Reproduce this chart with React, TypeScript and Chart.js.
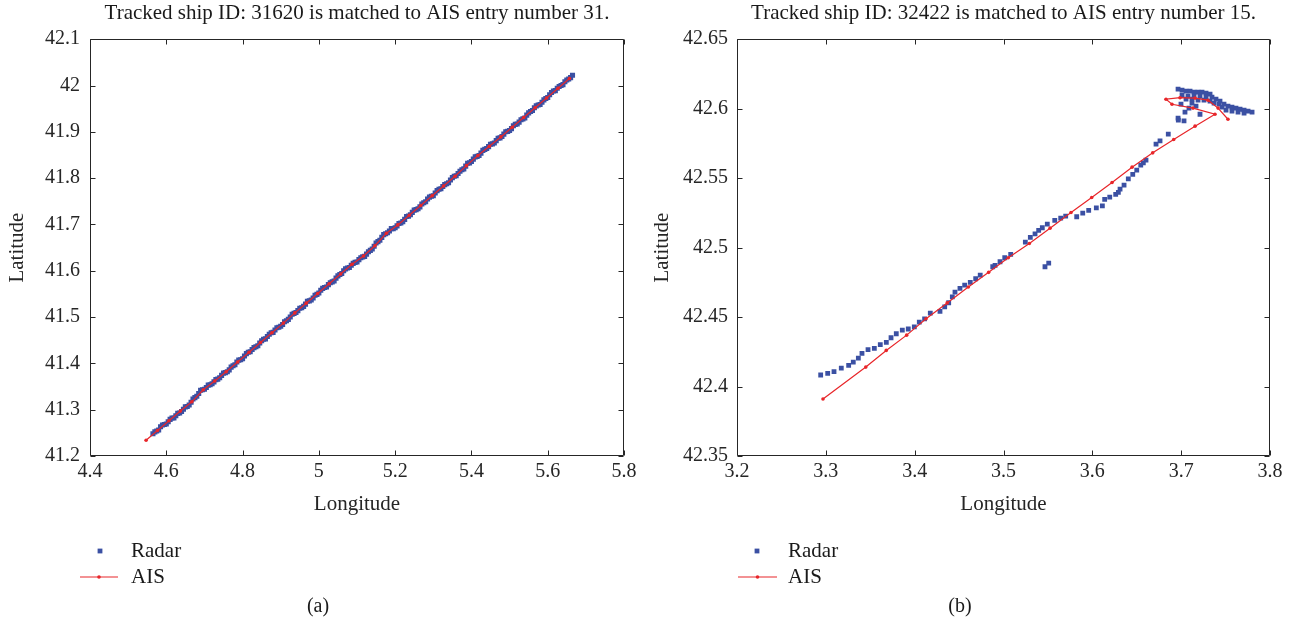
import React, { useEffect, useRef } from 'react';
import { Chart, registerables } from 'chart.js';

Chart.register(...registerables);

const FONT = "'Liberation Serif', 'Times New Roman', serif";
const INK = '#262626';
const BLUE = '#3b50a3';
const RED = '#e8262a';

// ---------- Panel (a) ----------
const titleA = 'Tracked ship ID: 31620 is matched to AIS entry number 31.';
const xTicksA = [4.4, 4.6, 4.8, 5, 5.2, 5.4, 5.6, 5.8];
const yTicksA = [41.2, 41.3, 41.4, 41.5, 41.6, 41.7, 41.8, 41.9, 42, 42.1];
const radarALon = [4.565, 4.575, 4.585, 4.595, 4.605, 4.615, 4.625, 4.635, 4.645, 4.655,
  4.665, 4.675, 4.685, 4.695, 4.705, 4.715, 4.725, 4.735, 4.745, 4.755,
  4.765, 4.775, 4.785, 4.795, 4.805, 4.815, 4.825, 4.835, 4.845, 4.855,
  4.865, 4.875, 4.885, 4.895, 4.905, 4.915, 4.925, 4.935, 4.945, 4.955,
  4.965, 4.975, 4.985, 4.995, 5.005, 5.015, 5.025, 5.035, 5.045, 5.055,
  5.065, 5.075, 5.085, 5.095, 5.105, 5.115, 5.125, 5.135, 5.145, 5.155,
  5.165, 5.175, 5.185, 5.195, 5.205, 5.215, 5.225, 5.235, 5.245, 5.255,
  5.265, 5.275, 5.285, 5.295, 5.305, 5.315, 5.325, 5.335, 5.345, 5.355,
  5.365, 5.375, 5.385, 5.395, 5.405, 5.415, 5.425, 5.435, 5.445, 5.455,
  5.465, 5.475, 5.485, 5.495, 5.505, 5.515, 5.525, 5.535, 5.545, 5.555,
  5.565, 5.575, 5.585, 5.595, 5.605, 5.615, 5.625, 5.635, 5.645, 5.655,
  5.665,
  4.570, 4.580, 4.590, 4.600, 4.610, 4.620, 4.630, 4.640, 4.650, 4.660,
  4.670, 4.680, 4.690, 4.700, 4.710, 4.720, 4.730, 4.740, 4.750, 4.760,
  4.770, 4.780, 4.790, 4.800, 4.810, 4.820, 4.830, 4.840, 4.850, 4.860,
  4.870, 4.880, 4.890, 4.900, 4.910, 4.920, 4.930, 4.940, 4.950, 4.960,
  4.970, 4.980, 4.990, 5.000, 5.010, 5.020, 5.030, 5.040, 5.050, 5.060,
  5.070, 5.080, 5.090, 5.100, 5.110, 5.120, 5.130, 5.140, 5.150, 5.160,
  5.170, 5.180, 5.190, 5.200, 5.210, 5.220, 5.230, 5.240, 5.250, 5.260,
  5.270, 5.280, 5.290, 5.300, 5.310, 5.320, 5.330, 5.340, 5.350, 5.360,
  5.370, 5.380, 5.390, 5.400, 5.410, 5.420, 5.430, 5.440, 5.450, 5.460,
  5.470, 5.480, 5.490, 5.500, 5.510, 5.520, 5.530, 5.540, 5.550, 5.560,
  5.570, 5.580, 5.590, 5.600, 5.610, 5.620, 5.630, 5.640, 5.650, 5.660];
const radarALat = [41.248, 41.254, 41.263, 41.268, 41.274, 41.282, 41.287, 41.293, 41.301, 41.307,
  41.316, 41.326, 41.335, 41.343, 41.348, 41.354, 41.360, 41.366, 41.374, 41.380,
  41.386, 41.395, 41.403, 41.408, 41.416, 41.424, 41.430, 41.436, 41.444, 41.452,
  41.458, 41.466, 41.472, 41.478, 41.484, 41.492, 41.500, 41.508, 41.514, 41.520,
  41.528, 41.535, 41.541, 41.549, 41.558, 41.564, 41.570, 41.576, 41.584, 41.592,
  41.600, 41.606, 41.612, 41.618, 41.624, 41.630, 41.636, 41.644, 41.653, 41.663,
  41.672, 41.680, 41.686, 41.691, 41.697, 41.703, 41.711, 41.718, 41.726, 41.732,
  41.738, 41.747, 41.755, 41.761, 41.768, 41.776, 41.782, 41.788, 41.796, 41.804,
  41.810, 41.818, 41.826, 41.833, 41.841, 41.847, 41.854, 41.862, 41.868, 41.874,
  41.881, 41.887, 41.895, 41.901, 41.907, 41.916, 41.921, 41.928, 41.936, 41.944,
  41.952, 41.958, 41.964, 41.972, 41.980, 41.988, 41.994, 42.000, 42.008, 42.014,
  42.022,
  41.252, 41.256, 41.267, 41.269, 41.279, 41.282, 41.292, 41.296, 41.306, 41.310,
  41.323, 41.329, 41.342, 41.344, 41.353, 41.356, 41.365, 41.369, 41.379, 41.382,
  41.392, 41.397, 41.407, 41.410, 41.421, 41.425, 41.434, 41.438, 41.449, 41.453,
  41.463, 41.467, 41.477, 41.480, 41.490, 41.495, 41.506, 41.510, 41.519, 41.523,
  41.534, 41.537, 41.547, 41.552, 41.562, 41.565, 41.574, 41.578, 41.589, 41.594,
  41.604, 41.607, 41.616, 41.619, 41.628, 41.631, 41.641, 41.647, 41.660, 41.666,
  41.678, 41.682, 41.691, 41.693, 41.702, 41.706, 41.717, 41.721, 41.731, 41.734,
  41.744, 41.749, 41.759, 41.762, 41.773, 41.777, 41.786, 41.790, 41.801, 41.805,
  41.815, 41.820, 41.832, 41.836, 41.846, 41.849, 41.860, 41.864, 41.873, 41.876,
  41.886, 41.890, 41.900, 41.903, 41.913, 41.917, 41.926, 41.930, 41.941, 41.946,
  41.956, 41.959, 41.969, 41.974, 41.985, 41.989, 41.998, 42.002, 42.012, 42.017];
const aisALon = [4.547, 4.577, 4.607, 4.637, 4.667, 4.697, 4.727, 4.757, 4.787, 4.817,
  4.847, 4.877, 4.907, 4.937, 4.967, 4.997, 5.027, 5.057, 5.087, 5.117,
  5.147, 5.177, 5.207, 5.237, 5.267, 5.297, 5.327, 5.357, 5.387, 5.417,
  5.447, 5.477, 5.507, 5.537, 5.567, 5.597, 5.627, 5.657];
const aisALat = [41.234, 41.255, 41.276, 41.297, 41.317, 41.343, 41.362, 41.382, 41.403, 41.424,
  41.445, 41.466, 41.487, 41.509, 41.530, 41.551, 41.572, 41.593, 41.614, 41.632,
  41.654, 41.681, 41.699, 41.720, 41.741, 41.762, 41.783, 41.804, 41.827, 41.849,
  41.869, 41.889, 41.910, 41.931, 41.952, 41.973, 41.994, 42.015];

// ---------- Panel (b) ----------
const titleB = 'Tracked ship ID: 32422 is matched to AIS entry number 15.';
const xTicksB = [3.2, 3.3, 3.4, 3.5, 3.6, 3.7, 3.8];
const yTicksB = [42.35, 42.4, 42.45, 42.5, 42.55, 42.6, 42.65];
const radarBLon = [3.2942, 3.3021, 3.3092, 3.3174, 3.3257, 3.3309, 3.3366, 3.3407, 3.3475, 3.3546,
  3.3613, 3.3681, 3.3734, 3.3793, 3.3861, 3.3928, 3.3996, 3.4052, 3.4112, 3.4176,
  3.4285, 3.4338, 3.4383, 3.4424, 3.4454, 3.451, 3.4563, 3.4626, 3.4687, 3.4738,
  3.4879, 3.4905, 3.4961, 3.5014, 3.5081, 3.5246, 3.5302, 3.5355, 3.5396, 3.5437,
  3.5493, 3.5577, 3.5644, 3.57, 3.5824, 3.5892, 3.5959, 3.6045, 3.6113, 3.6139,
  3.6196, 3.6263, 3.6293, 3.6312, 3.5467, 3.5509, 3.6357, 3.6405, 3.6455, 3.65,
  3.6545, 3.6574, 3.6604, 3.6717, 3.6762, 3.6855, 3.6968, 3.7032,
  3.6965, 3.701, 3.7055, 3.71, 3.7145, 3.719, 3.7235, 3.728, 3.7325, 3.701,
  3.7077, 3.7145, 3.7212, 3.728, 3.7347, 3.7392, 3.7437, 3.737, 3.7426, 3.7482,
  3.7527, 3.7572, 3.7617, 3.7663, 3.7708, 3.7753, 3.7798, 3.7505, 3.7572, 3.764,
  3.7708, 3.746, 3.7325, 3.7257, 3.719, 3.7122, 3.7055,
  3.7043, 3.7122, 3.6965, 3.7212, 3.7088, 3.7167, 3.6998];
const radarBLat = [42.4083, 42.4095, 42.4107, 42.4133, 42.4152, 42.4176, 42.4205, 42.4239, 42.4265, 42.4275,
  42.4301, 42.4318, 42.4351, 42.438, 42.4406, 42.4414, 42.443, 42.4464, 42.4487, 42.4529,
  42.4541, 42.4574, 42.4603, 42.4646, 42.468, 42.4707, 42.473, 42.475, 42.4776, 42.4802,
  42.4862, 42.4872, 42.4898, 42.4927, 42.4951, 42.504, 42.5073, 42.5099, 42.5124, 42.5143,
  42.5169, 42.5196, 42.5212, 42.5227, 42.5222, 42.5248, 42.5268, 42.5286, 42.5301, 42.5347,
  42.5363, 42.5383, 42.5397, 42.5421, 42.4862, 42.4888, 42.545, 42.5495, 42.5527, 42.5558,
  42.5594, 42.561, 42.563, 42.5745, 42.5768, 42.5817, 42.5917, 42.5912,
  42.614, 42.6133, 42.6126, 42.6126, 42.6119, 42.6119, 42.6119, 42.6112, 42.6104, 42.6097,
  42.609, 42.609, 42.609, 42.6083, 42.6083, 42.6068, 42.6054, 42.604, 42.6032, 42.6032,
  42.6018, 42.6011, 42.6004, 42.5996, 42.5989, 42.5982, 42.5975, 42.5989, 42.5982, 42.5975,
  42.5968, 42.6011, 42.6054, 42.6061, 42.6061, 42.6068, 42.6068,
  42.5975, 42.604, 42.5932, 42.596, 42.6004, 42.6018, 42.6032];
const aisBLon = [3.2968, 3.345, 3.368, 3.391, 3.4128, 3.4366, 3.4604, 3.4833, 3.5054, 3.5291,
  3.5524, 3.576, 3.5993, 3.6222, 3.6447, 3.668, 3.6916, 3.7156, 3.7381, 3.7133,
  3.6897, 3.6829, 3.6987, 3.7156, 3.7302, 3.7415, 3.7527];
const aisBLat = [42.391, 42.414, 42.426, 42.437, 42.4488, 42.4602, 42.4716, 42.4822, 42.4927, 42.503,
  42.514, 42.5253, 42.5361, 42.5469, 42.5579, 42.5682, 42.5778, 42.5874, 42.596, 42.6004,
  42.6032, 42.6068, 42.6079, 42.6076, 42.6061, 42.6004, 42.5924];

const boxPlugin = {
  id: 'boxTicks',
  afterLayout(chart: any) {
    const t = chart.titleBlock;
    if (t) {
      t.left = chart.chartArea.left;
      t.right = chart.chartArea.right;
      t.width = t.right - t.left;
    }
  },
  afterDatasetsDraw(chart: any) {
    const { ctx, chartArea } = chart;
    const { left, right, top, bottom } = chartArea;
    const xs = chart.scales.x;
    const ys = chart.scales.y;
    const L = Math.round(left) + 0.5;
    const R = Math.round(right) - 0.5;
    const T = Math.round(top) + 0.5;
    const B = Math.round(bottom) - 0.5;
    ctx.save();
    ctx.strokeStyle = INK;
    ctx.lineWidth = 1;
    ctx.beginPath();
    ctx.rect(L, T, R - L, B - T);
    const tl = 5;
    xs.ticks.forEach((t: any) => {
      const p = Math.round(xs.getPixelForValue(t.value)) + 0.5;
      ctx.moveTo(p, B); ctx.lineTo(p, B - tl);
      ctx.moveTo(p, T); ctx.lineTo(p, T + tl);
    });
    ys.ticks.forEach((t: any) => {
      const p = Math.round(ys.getPixelForValue(t.value)) + 0.5;
      ctx.moveTo(L, p); ctx.lineTo(L + tl, p);
      ctx.moveTo(R, p); ctx.lineTo(R - tl, p);
    });
    ctx.stroke();
    ctx.restore();
  },
};

const extrasPlugin = {
  id: 'panelExtras',
  afterDraw(chart: any, _args: any, opts: any) {
    const { ctx } = chart;
    const radar = chart.data.datasets.find((d: any) => d.label === 'Radar');
    const ais = chart.data.datasets.find((d: any) => d.label === 'AIS');
    ctx.save();
    const s = 4.8;
    ctx.fillStyle = BLUE;
    ctx.fillRect(opts.markX - s / 2, opts.row1 - s / 2, s, s);
    ctx.strokeStyle = RED;
    ctx.lineWidth = 1.2;
    ctx.beginPath();
    ctx.moveTo(opts.lineX0, opts.row2);
    ctx.lineTo(opts.lineX1, opts.row2);
    ctx.stroke();
    ctx.fillStyle = RED;
    ctx.beginPath();
    ctx.arc((opts.lineX0 + opts.lineX1) / 2, opts.row2, 1.8, 0, Math.PI * 2);
    ctx.fill();
    ctx.fillStyle = '#1a1a1a';
    ctx.font = `21px ${FONT}`;
    ctx.textAlign = 'left';
    ctx.textBaseline = 'middle';
    ctx.fillText(radar.label, opts.textX, opts.row1);
    ctx.fillText(ais.label, opts.textX, opts.row2);
    ctx.textAlign = 'center';
    ctx.font = `20px ${FONT}`;
    ctx.fillText(opts.caption, opts.captionX, opts.captionY);
    ctx.restore();
  },
};

function makeConfig(p: any): any {
  const tickFont = { family: FONT, size: 20 };
  const titleFont = { family: FONT, size: 21, weight: 'normal' as const };
  return {
    type: 'scatter',
    data: {
      datasets: [
        {
          label: 'Radar',
          data: p.radarLon.map((x: number, i: number) => ({ x, y: p.radarLat[i] })),
          showLine: false,
          pointStyle: 'rect',
          pointRadius: p.radarSize,
          pointBackgroundColor: BLUE,
          pointBorderWidth: 0,
          order: 1,
        },
        {
          label: 'AIS',
          data: p.aisLon.map((x: number, i: number) => ({ x, y: p.aisLat[i] })),
          showLine: true,
          borderColor: RED,
          borderWidth: 1.2,
          pointRadius: 1.8,
          pointBackgroundColor: RED,
          pointBorderWidth: 0,
          tension: 0,
          order: 0,
        },
      ],
    },
    options: {
      responsive: false,
      animation: false,
      devicePixelRatio: 1,
      events: [],
      layout: { padding: { left: 0, right: p.padRight, top: 0, bottom: 109 } },
      plugins: {
        legend: { display: false },
        tooltip: { enabled: false },
        title: {
          display: true,
          text: p.title,
          color: '#1a1a1a',
          font: titleFont,
          padding: { top: 1, bottom: 13 },
        },
        panelExtras: p.extras,
      },
      scales: {
        x: {
          type: 'linear',
          min: p.xTicks[0],
          max: p.xTicks[p.xTicks.length - 1],
          afterFit: (s: any) => { s.height = 64; },
          afterBuildTicks: (s: any) => { s.ticks = p.xTicks.map((v: number) => ({ value: v })); },
          grid: { display: false, drawTicks: false },
          border: { display: false },
          ticks: { padding: 4, font: tickFont, color: INK, autoSkip: false, maxRotation: 0, callback: (v: number) => String(v) },
          title: { display: true, text: 'Longitude', color: INK, font: titleFont, padding: { top: 0, bottom: 3 } },
        },
        y: {
          type: 'linear',
          min: p.yTicks[0],
          max: p.yTicks[p.yTicks.length - 1],
          afterFit: (s: any) => { s.width = p.yWidth; },
          afterBuildTicks: (s: any) => { s.ticks = p.yTicks.map((v: number) => ({ value: v })); },
          grid: { display: false, drawTicks: false },
          border: { display: false },
          ticks: { padding: p.yPad, font: tickFont, color: INK, autoSkip: false, callback: (v: number) => String(v) },
          title: { display: true, text: 'Latitude', color: INK, font: titleFont, padding: { top: p.yTitlePad, bottom: 0 } },
        },
      },
    },
    plugins: [boxPlugin, extrasPlugin],
  };
}

function Panel(props: { cfg: any; left: number }) {
  const ref = useRef<HTMLCanvasElement | null>(null);
  useEffect(() => {
    if (!ref.current) return;
    const chart = new Chart(ref.current, makeConfig(props.cfg));
    return () => chart.destroy();
  }, []);
  return (
    <div style={{ position: 'absolute', left: props.left, top: 0, width: 648, height: 629 }}>
      <canvas ref={ref} width={648} height={629} style={{ display: 'block' }} />
    </div>
  );
}

const cfgA = {
  title: titleA, radarLon: radarALon, radarLat: radarALat, aisLon: aisALon, aisLat: aisALat,
  xTicks: xTicksA, yTicks: yTicksA, padRight: 24, yWidth: 90, yPad: 10, yTitlePad: 5, radarSize: 3.6,
  extras: { markX: 100, lineX0: 80, lineX1: 118, textX: 131, row1: 551, row2: 577, caption: '(a)', captionX: 318, captionY: 607 },
};
const cfgB = {
  title: titleB, radarLon: radarBLon, radarLat: radarBLat, aisLon: aisBLon, aisLat: aisBLat,
  xTicks: xTicksB, yTicks: yTicksB, padRight: 26, yWidth: 89, yPad: 9, yTitlePad: 2, radarSize: 3.4,
  extras: { markX: 109, lineX0: 90, lineX1: 129, textX: 140, row1: 551, row2: 577, caption: '(b)', captionX: 312, captionY: 607 },
};

export default function App() {
  return (
    <div style={{ position: 'absolute', left: 0, top: 0, width: 1296, height: 629, background: '#fff', overflow: 'hidden' }}>
      <Panel cfg={cfgA} left={0} />
      <Panel cfg={cfgB} left={648} />
    </div>
  );
}
